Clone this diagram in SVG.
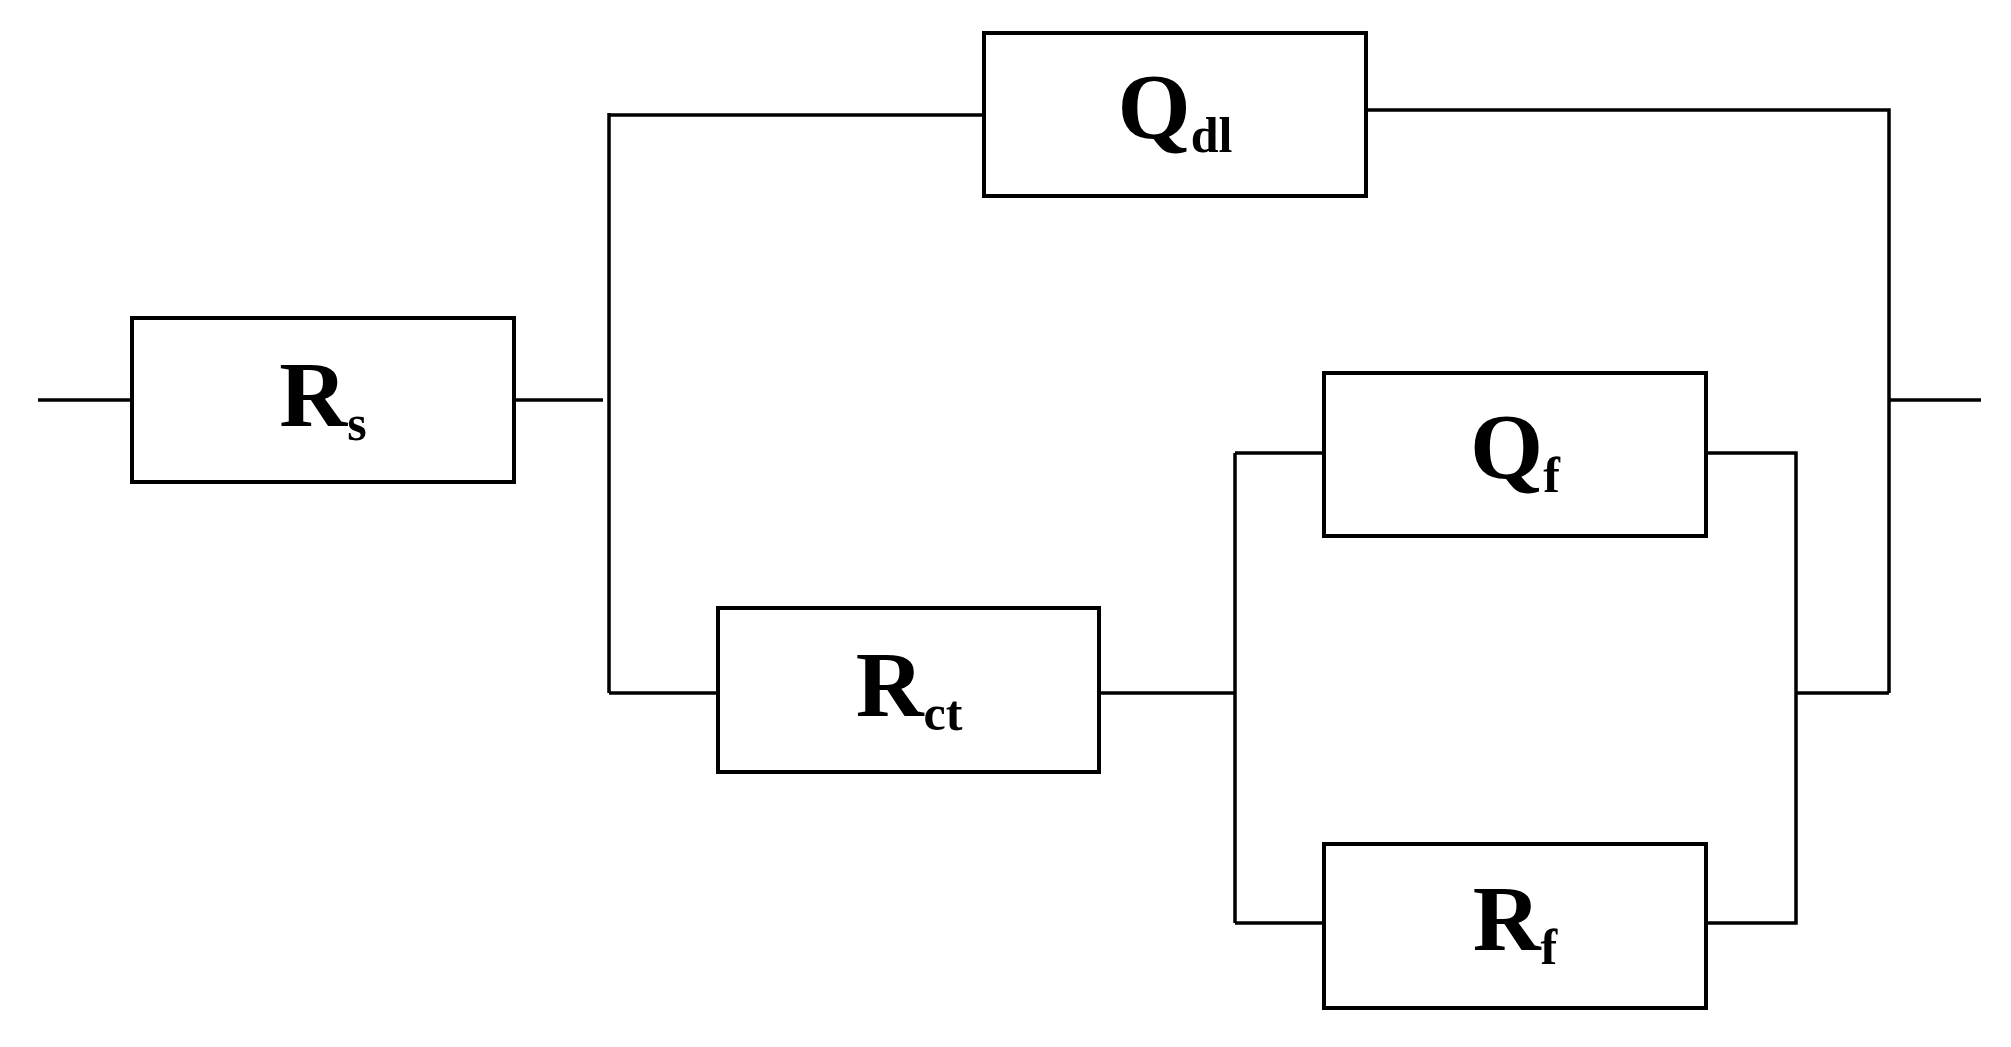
<svg xmlns="http://www.w3.org/2000/svg" width="2011" height="1047" viewBox="0 0 2011 1047">
<style>
.b{fill:#fff;stroke:#000;stroke-width:4}
.w{fill:none;stroke:#000;stroke-width:3.5}
text{font-family:"Liberation Serif",serif;font-weight:bold;font-size:94px;text-anchor:middle}
.s{font-size:50px}
</style>
<rect width="2011" height="1047" fill="#fff"/>
<g id="wires">
<path class="w" d="M38 400H132M514 400H603M609 113V693M609 115H984M1366 110H1889V693M1889 400H1981M609 693H718M1099 693H1235M1235 453V923M1235 453H1324M1235 923H1324M1706 453H1796V923H1706M1796 693H1889"/>
</g>
<g id="Rs"><rect class="b" x="132" y="318" width="382" height="164"/><text x="323" y="426">R<tspan class="s" dy="14">s</tspan></text></g>
<g id="Qdl"><rect class="b" x="984" y="33" width="382" height="163"/><text x="1175" y="138">Q<tspan class="s" dy="14">dl</tspan></text></g>
<g id="Rct"><rect class="b" x="718" y="608" width="381" height="164"/><text x="909" y="716">R<tspan class="s" dy="14">ct</tspan></text></g>
<g id="Qf"><rect class="b" x="1324" y="373" width="382" height="163"/><text x="1515" y="478">Q<tspan class="s" dy="14">f</tspan></text></g>
<g id="Rf"><rect class="b" x="1324" y="844" width="382" height="164"/><text x="1515" y="950">R<tspan class="s" dy="14">f</tspan></text></g>
</svg>
